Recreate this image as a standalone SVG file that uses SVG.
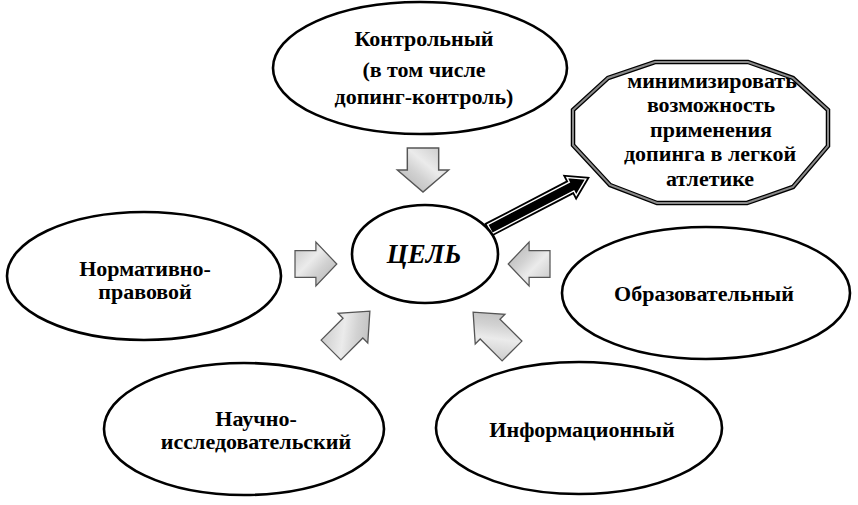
<svg xmlns="http://www.w3.org/2000/svg" width="858" height="505" viewBox="0 0 858 505">
<defs>
<style>
.node ellipse{fill:#fff;stroke:#000;stroke-width:2.6}
.t{font-family:"Liberation Serif","Times New Roman","DejaVu Serif",serif;font-weight:bold;font-size:22px;fill:#000;text-anchor:middle}
.goal{font-style:italic;font-size:27px}
.blk{fill:url(#g);stroke:#555;stroke-width:1.3;stroke-linejoin:miter}
</style>
<linearGradient id="g" x1="0" y1="0" x2="1" y2="1">
<stop offset="0" stop-color="#c4c4c4"/>
<stop offset="0.4" stop-color="#ebebeb"/>
<stop offset="0.6" stop-color="#d2d2d2"/>
<stop offset="1" stop-color="#b0b0b0"/>
</linearGradient>
<path id="ba" d="M0,-14 H22 V-23 L44,0 L22,23 V14 H0 Z"/>
<path id="bd" d="M0,-14 H31 V-21 L55,0 L31,21 V14 H0 Z"/>
</defs>
<rect width="858" height="505" fill="#fff"/>

<g id="connectors">
<use href="#ba" class="blk" transform="translate(423,148) rotate(90) scale(1,1.12)"/>
<use href="#ba" class="blk" transform="translate(295,264) scale(0.95)"/>
<use href="#ba" class="blk" transform="translate(550,264) rotate(180) scale(0.95)"/>
<use href="#bd" class="blk" transform="translate(331,350) rotate(-45)"/>
<use href="#bd" class="blk" transform="translate(512,351) rotate(-135)"/>
<g transform="translate(490,229) rotate(-27.5)">
<path d="M0,-5 H92 V-10 L108,0 L92,10 V5 H0 Z" fill="#000" stroke="#000" stroke-width="5" stroke-linejoin="miter"/>
<path d="M0,-5 H92 V-10 L108,0 L92,10 V5 H0 Z" fill="#000" stroke="#fff" stroke-width="1.4" stroke-linejoin="miter"/>
</g>
</g>

<g id="node-control" class="node">
<ellipse cx="420" cy="68" rx="147" ry="66"/>
<text class="t" x="424" y="46">Контрольный</text>
<text class="t" x="424" y="77">(в том числе</text>
<text class="t" x="424" y="104">допинг-контроль)</text>
</g>

<g id="node-goal" class="node">
<ellipse cx="425" cy="254" rx="73" ry="49"/>
<text class="t goal" x="424" y="263">ЦЕЛЬ</text>
</g>

<g id="node-result">
<polygon points="573,110 608,78 655,62 748,62 793,78 828,110 828,146 793,187 747,203 657,203 610,185 573,145" fill="#fff" stroke="#000" stroke-width="4.5" stroke-linejoin="miter"/>
<polygon points="573,110 608,78 655,62 748,62 793,78 828,110 828,146 793,187 747,203 657,203 610,185 573,145" fill="none" stroke="#8a8a8a" stroke-width="2" stroke-linejoin="miter"/>
<text class="t" x="712" y="88">минимизировать</text>
<text class="t" x="711" y="112">возможность</text>
<text class="t" x="711" y="137">применения</text>
<text class="t" x="710" y="161">допинга в легкой</text>
<text class="t" x="710" y="186">атлетике</text>
</g>

<g id="node-normative" class="node">
<ellipse cx="144" cy="276" rx="137" ry="64"/>
<text class="t" x="145" y="276">Нормативно-</text>
<text class="t" x="145" y="299">правовой</text>
</g>

<g id="node-education" class="node">
<ellipse cx="706" cy="293" rx="144" ry="66"/>
<text class="t" x="704" y="301">Образовательный</text>
</g>

<g id="node-science" class="node">
<ellipse cx="244" cy="429" rx="140" ry="66"/>
<text class="t" x="256" y="426">Научно-</text>
<text class="t" x="256" y="449">исследовательский</text>
</g>

<g id="node-info" class="node">
<ellipse cx="579" cy="428" rx="143" ry="66"/>
<text class="t" x="582" y="437">Информационный</text>
</g>
</svg>
